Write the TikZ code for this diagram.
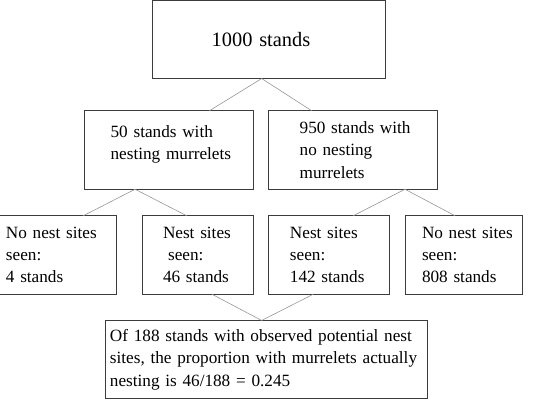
\documentclass[tikz,border=0pt]{standalone}
\usepackage{fontspec}
\setmainfont{Liberation Serif}
\usepackage{tikz}
\definecolor{boxgray}{RGB}{60,60,60}
\definecolor{linkgray}{RGB}{150,150,150}

\begin{document}
\begin{tikzpicture}[
  x=1pt,y=-1pt,
  stand/.style={rectangle,draw=boxgray,line width=1pt,align=left,outer sep=0pt,
                inner xsep=2pt,inner ysep=0pt,minimum height=78.5pt,
                font=\fontsize{17.2}{22.3}\selectfont},
  lpad/.style={execute at begin node={\leftskip=#1\relax}},
  bpad/.style={execute at end node={\endgraf\vspace*{#1}}},
  link/.style={draw=linkgray,line width=0.6pt},
]
\useasboundingbox (0,0) rectangle (550,400);

\node[stand,lpad=57pt,text width=229pt,
      font=\fontsize{20.4}{24}\selectfont] (all) at (269.2,39.3) {1000 stands};

\node[stand,lpad=24pt,bpad=11pt,text width=165.3pt] (nest) at (169.3,150) {50 stands with\\nesting murrelets};
\node[stand,lpad=29pt,text width=165pt]   (nonest) at (353.2,150) {950 stands with\\no nesting\\murrelets};

\node[stand,lpad=4pt,text width=112.7pt]    (nestno)    at (58.3,255)  {No nest sites\\seen:\\4 stands};
\node[stand,lpad=18.3pt,text width=106.6pt] (nestyes)   at (198,255)   {Nest sites\\\hspace*{0.3em}seen:\\46 stands};
\node[stand,lpad=19.3pt,text width=117.3pt] (nonestyes) at (329.3,255) {Nest sites\\seen:\\142 stands};
\node[stand,lpad=15pt,text width=113pt]     (nonestno)  at (463.5,255) {No nest sites\\seen:\\808 stands};

\node[stand,lpad=2pt,text width=317.7pt] (result) at (266.8,359.7)
  {Of 188 stands with observed potential nest\\sites, the proportion with murrelets actually\\nesting is 46/188 = 0.245};

% tree links
\draw[link] ([xshift=109pt]all.south west) -- ([xshift=124.7pt]nest.north west);
\draw[link] ([xshift=109pt]all.south west) -- ([xshift=43pt]nonest.north west);
\draw[link] ([xshift=50.4pt]nest.south west) -- ([xshift=83.3pt]nestno.north west);
\draw[link] ([xshift=50.4pt]nest.south west) -- ([xshift=44pt]nestyes.north west);
\draw[link] ([xshift=136.3pt]nonest.south west) -- ([xshift=84.6pt]nonestyes.north west);
\draw[link] ([xshift=136.3pt]nonest.south west) -- ([xshift=50pt]nonestno.north west);
\draw[link] ([xshift=69.3pt]nestyes.south west) -- ([xshift=155.7pt]result.north west);
\draw[link] ([xshift=44.6pt]nonestyes.south west) -- ([xshift=155.7pt]result.north west);

\end{tikzpicture}
\end{document}
